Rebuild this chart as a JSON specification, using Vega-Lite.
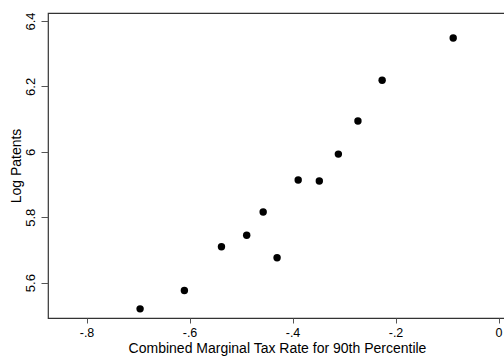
{
  "$schema": "https://vega.github.io/schema/vega-lite/v6.json",
  "autosize": "none",
  "padding": {"left": 48, "top": 13, "right": 0, "bottom": 38},
  "width": 458,
  "height": 305,
  "background": "white",
  "config": {
    "view": {"stroke": "#333333", "strokeWidth": 1.2},
    "font": "Liberation Sans",
    "axis": {
      "grid": false,
      "domain": false,
      "tickColor": "#555555",
      "tickSize": 5,
      "labelColor": "black",
      "labelFontSize": 13,
      "labelFont": "Liberation Sans",
      "titleFont": "Liberation Sans",
      "titleFontSize": 14,
      "titleFontWeight": "normal",
      "titleColor": "black"
    }
  },
  "data": {
    "values": [
      {"rate": -0.696, "logpat": 5.520},
      {"rate": -0.610, "logpat": 5.576},
      {"rate": -0.538, "logpat": 5.710},
      {"rate": -0.489, "logpat": 5.745},
      {"rate": -0.457, "logpat": 5.816},
      {"rate": -0.430, "logpat": 5.676},
      {"rate": -0.389, "logpat": 5.914},
      {"rate": -0.348, "logpat": 5.911},
      {"rate": -0.311, "logpat": 5.993},
      {"rate": -0.273, "logpat": 6.094},
      {"rate": -0.226, "logpat": 6.219},
      {"rate": -0.088, "logpat": 6.348}
    ]
  },
  "mark": {"type": "point", "filled": true, "shape": "circle", "size": 55, "color": "black", "opacity": 1},
  "encoding": {
    "x": {
      "field": "rate",
      "type": "quantitative",
      "scale": {"domain": [-0.8748, 0.0145], "nice": false, "zero": false},
      "axis": {
        "title": "Combined Marginal Tax Rate for 90th Percentile",
        "values": [-0.8, -0.6, -0.4, -0.2, 0],
        "labelExpr": "datum.value == 0 ? '0' : '-.' + format(abs(datum.value) * 10, 'd')",
        "labelFontSize": 12.5,
        "labelPadding": 3,
        "titlePadding": 3
      }
    },
    "y": {
      "field": "logpat",
      "type": "quantitative",
      "scale": {"domain": [5.492, 6.4244], "nice": false, "zero": false},
      "axis": {
        "title": "Log Patents",
        "values": [5.6, 5.8, 6.0, 6.2, 6.4],
        "labelExpr": "datum.value == 6 ? '6' : format(datum.value, '.1f')",
        "labelAngle": -90,
        "labelAlign": "center",
        "labelBaseline": "bottom",
        "labelPadding": 4,
        "tickSize": 7,
        "titlePadding": 1
      }
    }
  }
}
